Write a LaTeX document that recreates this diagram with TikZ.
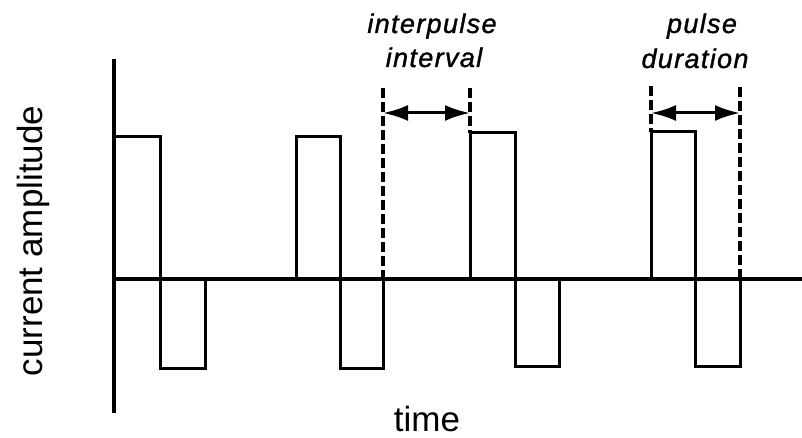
\documentclass[tikz,border=0pt]{standalone}
\usepackage{fontspec}
\setmainfont{Liberation Sans}
\newfontfamily\labelfont[LetterSpace=5,FakeBold=1.2]{Liberation Sans}
\usetikzlibrary{arrows.meta}
\begin{document}
\begin{tikzpicture}[x=1pt,y=-1pt,
  axisline/.style={line width=3.3pt},
  wave/.style={line width=3pt, line join=miter},
  guide/.style={line width=3.2pt, dash pattern=on 10pt off 4pt},
  dimarrow/.style={line width=3pt, {Latex[length=25pt,width=16pt]}-{Latex[length=25pt,width=16pt]}},
  axislabel/.style={font=\fontsize{35}{40}\selectfont, inner sep=0pt},
  toplabel/.style={font=\labelfont\itshape\fontsize{27}{30}\selectfont, inner sep=0pt, anchor=base}]
  \useasboundingbox (0,0) rectangle (802,438);

  % axes
  \draw[axisline] (114,59) -- (114,413);
  \draw[axisline] (114,279) -- (802,279);

  % biphasic pulse train
  \draw[wave] (114,137) -- (160,137) -- (160,368) -- (205,368) -- (205,279);
  \draw[wave] (296,279) -- (296,137) -- (340,137) -- (340,368) -- (383,368) -- (383,279);
  \draw[wave] (470,279) -- (470,133) -- (515,133) -- (515,366) -- (559,366) -- (559,279);
  \draw[wave] (651,279) -- (651,132) -- (695,132) -- (695,366) -- (740,366) -- (740,279);

  % guide lines for the interval markers
  \coordinate (ia) at (383,113);
  \coordinate (ib) at (470,113);
  \coordinate (pa) at (651,113);
  \coordinate (pb) at (740,113);
  \draw[guide] (383,88) -- (383,279);
  \draw[guide] (470,88) -- (470,133);
  \draw[guide] (651,86) -- (651,132);
  \draw[guide] (740,87) -- (740,279);

  \draw[dimarrow] (ia) -- (ib);
  \draw[dimarrow] (pa) -- (pb);

  % labels
  \node[toplabel] (ip1) at (432,33) {interpulse};
  \node[toplabel] (ip2) at (434,67) {interval};
  \node[toplabel] (pd1) at (702,33) {pulse};
  \node[toplabel] (pd2) at (695,68) {duration};

  \node[axislabel, anchor=base] (tl) at (427,431) {time};
  \node[axislabel, anchor=base, rotate=90] (al) at (42,241) {current amplitude};
\end{tikzpicture}
\end{document}
